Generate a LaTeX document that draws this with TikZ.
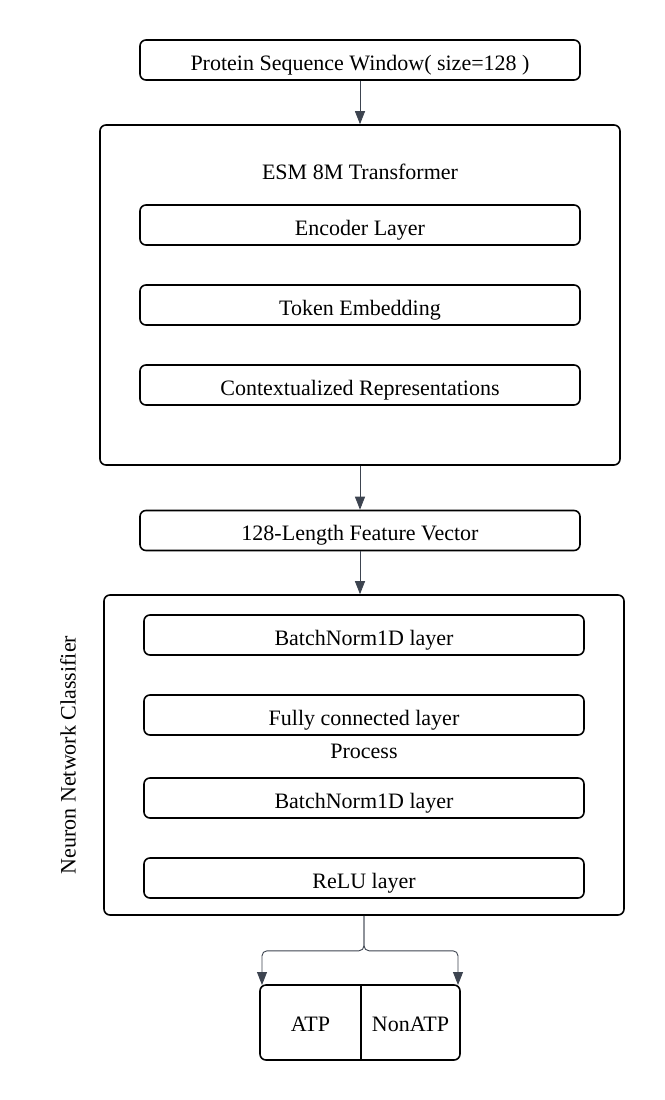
\documentclass[tikz,border=0pt]{standalone}
\usepackage{fontspec}
\setmainfont{Liberation Serif}
\usepackage{xcolor}
\usetikzlibrary{shapes, arrows.meta, positioning}
\definecolor{arrowgray}{HTML}{3D4450}

\begin{document}
\begin{tikzpicture}[x=1pt, y=-1pt,
    lbl/.style={font=\fontsize{22}{26}\selectfont, text height=20pt, text depth=0pt},
    box/.style={lbl, draw, rectangle, rounded corners=6pt, line width=1.6pt},
    layer/.style={box, minimum width=440pt, minimum height=40pt},
    frame/.style={draw, rectangle, rounded corners=6pt, line width=1.6pt},
    arr/.style={draw=arrowgray, line width=0.9pt, -{Triangle[length=13pt, width=10pt]}}]
    \useasboundingbox (0,0) rectangle (664,1100);
    % input window
    \node[layer] (win) at (360,60) {Protein Sequence Window( size=128 )};
    % transformer block
    \node[frame, minimum width=520pt, minimum height=340pt] (esm) at (360,295) {};
    \node[lbl] (esmt) at (360,169) {ESM 8M Transformer};
    \node[layer] (enc) at (360,225) {Encoder Layer};
    \node[layer] (tok) at (360,305) {Token Embedding};
    \node[layer] (ctx) at (360,385) {Contextualized Representations};
    % feature vector
    \node[layer] (feat) at (360,530.5) {128-Length Feature Vector};
    % classifier block
    \node[frame, minimum width=520pt, minimum height=320pt] (clf) at (364,755) {};
    \node[font=\fontsize{22}{26}\selectfont, rotate=90] (clft) at (68,755) {Neuron Network Classifier};
    \node[layer] (bn1) at (364,635) {BatchNorm1D layer};
    \node[layer] (fc) at (364,715) {Fully connected layer};
    \node[lbl] (proc) at (364,748) {Process};
    \node[layer] (bn2) at (364,798) {BatchNorm1D layer};
    \node[layer] (relu) at (364,878) {ReLU layer};
    % output classes
    \node[frame, minimum width=200pt, minimum height=75pt] (out) at (360,1022.5) {};
    \node[lbl] (atp) at (310.5,1021) {ATP};
    \node[lbl] (natp) at (410.5,1021) {NonATP};
    \coordinate (split) at (361,985);
    \draw[line width=1.6pt] (split) -- (split |- out.south);
    \coordinate (atpin) at (262,985);
    \coordinate (natpin) at (458,985);
    % arrows
    \draw[arr] (win) -- (esm);
    \draw[arr] (esm.south -| feat) -- (feat);
    \draw[arr] (feat) -- (feat |- clf.north);
    \draw[arr, rounded corners=5pt] (clf.south) -- ++(0,35) -| (atpin);
    \draw[arr, rounded corners=5pt] (clf.south) -- ++(0,35) -| (natpin);
\end{tikzpicture}
\end{document}
